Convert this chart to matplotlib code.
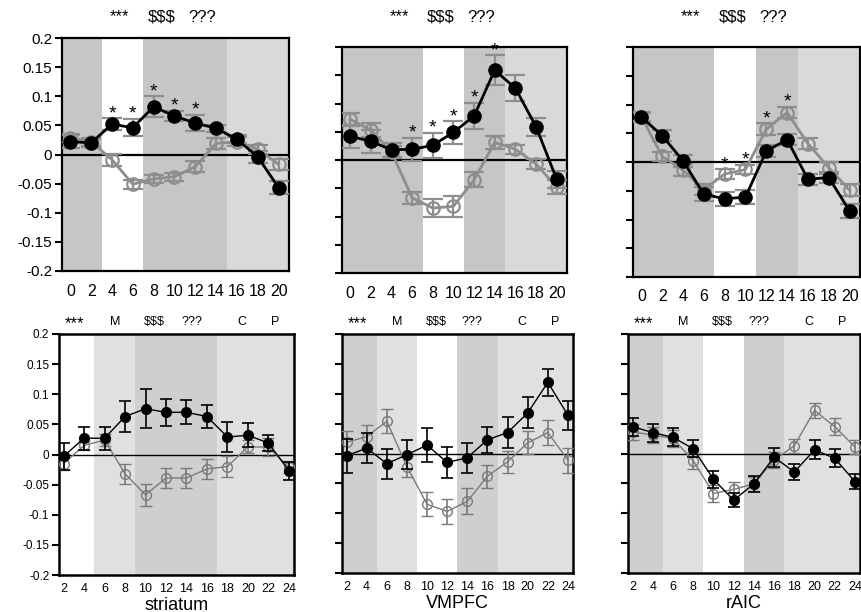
import matplotlib
matplotlib.use("Agg")
import matplotlib.pyplot as plt
import matplotlib.transforms as mtransforms
import numpy as np

plt.rcParams['font.family'] = ['Liberation Sans', 'DejaVu Sans']

# ---------------- data ----------------
top_x = [0, 2, 4, 6, 8, 10, 12, 14, 16, 18, 20]
bot_x = [2, 4, 6, 8, 10, 12, 14, 16, 18, 20, 22, 24]
regions = ["striatum", "VMPFC", "rAIC"]

# top row (black = filled, gray = open)
top_black = {
    "striatum": [0.022, 0.020, 0.052, 0.046, 0.082, 0.066, 0.054, 0.045, 0.026, -0.004, -0.057],
    "VMPFC":    [0.042, 0.033, 0.018, 0.019, 0.026, 0.049, 0.078, 0.159, 0.127, 0.059, -0.034],
    "rAIC":     [0.078, 0.046, 0.002, -0.056, -0.064, -0.061, 0.019, 0.039, -0.030, -0.027, -0.085],
}
top_black_err = {
    "striatum": [0.011, 0.007, 0.010, 0.015, 0.018, 0.009, 0.014, 0.006, 0.007, 0.010, 0.011],
    "VMPFC":    [0.020, 0.020, 0.012, 0.020, 0.022, 0.020, 0.023, 0.026, 0.023, 0.016, 0.015],
    "rAIC":     [0.008, 0.010, 0.010, 0.012, 0.012, 0.012, 0.010, 0.010, 0.010, 0.010, 0.012],
}
top_gray = {
    "striatum": [0.029, 0.022, -0.009, -0.051, -0.042, -0.038, -0.021, 0.019, 0.022, 0.009, -0.017],
    "VMPFC":    [0.072, 0.053, 0.014, -0.067, -0.085, -0.082, -0.035, 0.031, 0.019, -0.007, -0.048],
    "rAIC":     [0.079, 0.010, -0.014, -0.048, -0.021, -0.013, 0.057, 0.086, 0.032, -0.010, -0.049],
}
top_gray_err = {
    "striatum": [0.007, 0.007, 0.010, 0.008, 0.007, 0.007, 0.009, 0.010, 0.008, 0.008, 0.010],
    "VMPFC":    [0.011, 0.012, 0.010, 0.010, 0.016, 0.019, 0.013, 0.011, 0.008, 0.009, 0.013],
    "rAIC":     [0.008, 0.008, 0.010, 0.010, 0.008, 0.008, 0.010, 0.010, 0.010, 0.010, 0.010],
}
# significance stars: x positions and which series they sit above
top_star_x = {"striatum": [4, 6, 8, 10, 12], "VMPFC": [6, 8, 10, 12, 14], "rAIC": [8, 10, 12, 14]}
top_star_series = {"striatum": "black", "VMPFC": "black", "rAIC": "gray"}

# bottom row
bot_black = {
    "striatum": [-0.003, 0.027, 0.027, 0.063, 0.076, 0.070, 0.070, 0.063, 0.029, 0.032, 0.019, -0.027],
    "VMPFC":    [-0.004, 0.009, -0.017, -0.002, 0.014, -0.015, -0.007, 0.023, 0.035, 0.068, 0.119, 0.064],
    "rAIC":     [0.045, 0.035, 0.027, 0.008, -0.043, -0.078, -0.051, -0.006, -0.031, 0.006, -0.008, -0.047],
}
bot_black_err = {
    "striatum": [0.022, 0.019, 0.019, 0.026, 0.032, 0.022, 0.020, 0.019, 0.025, 0.020, 0.014, 0.015],
    "VMPFC":    [0.029, 0.025, 0.025, 0.024, 0.029, 0.026, 0.025, 0.022, 0.026, 0.026, 0.023, 0.024],
    "rAIC":     [0.015, 0.015, 0.015, 0.014, 0.014, 0.012, 0.014, 0.016, 0.014, 0.016, 0.015, 0.012],
}
bot_gray = {
    "striatum": [-0.015, 0.015, 0.024, -0.032, -0.067, -0.039, -0.039, -0.024, -0.020, 0.013, 0.012, -0.021],
    "VMPFC":    [0.019, 0.028, 0.054, -0.022, -0.085, -0.097, -0.080, -0.038, -0.014, 0.018, 0.035, -0.011],
    "rAIC":     [0.036, 0.031, 0.025, -0.012, -0.067, -0.060, -0.051, -0.011, 0.013, 0.072, 0.045, 0.011],
}
bot_gray_err = {
    "striatum": [0.011, 0.008, 0.010, 0.017, 0.018, 0.017, 0.017, 0.017, 0.018, 0.011, 0.015, 0.010],
    "VMPFC":    [0.019, 0.019, 0.020, 0.018, 0.020, 0.021, 0.022, 0.019, 0.019, 0.019, 0.021, 0.021],
    "rAIC":     [0.014, 0.014, 0.014, 0.014, 0.014, 0.012, 0.012, 0.014, 0.012, 0.012, 0.014, 0.012],
}

y_ticks = [0.2, 0.15, 0.1, 0.05, 0, -0.05, -0.1, -0.15, -0.2]
y_ticklabels = ["0.2", "0.15", "0.1", "0.05", "0", "-0.05", "-0.1", "-0.15", "-0.2"]
top_header = ["***", "$$$", "???"]
bot_header = ["***", "M", "$$$", "???", "C", "P"]

# ---------------- styling / layout ----------------
DARK_T, LIGHT_T = "#c6c6c6", "#d9d9d9"
DARK_B, LIGHT_B = "#cfcfcf", "#e0e0e0"
GRAY_T = "#8e8e8e"
GRAY_B = "#7a7a7a"

top_shading = {
    "striatum": [(-5, 3, DARK_T), (3, 7, "white"), (7, 15, DARK_T), (15, 30, LIGHT_T)],
    "VMPFC":    [(-5, 7, DARK_T), (7, 11, "white"), (11, 15, DARK_T), (15, 30, LIGHT_T)],
    "rAIC":     [(-5, 7, DARK_T), (7, 11, "white"), (11, 15, DARK_T), (15, 30, LIGHT_T)],
}
bot_shading = {
    "striatum": [(0, 5, "white"), (5, 9, LIGHT_B), (9, 17, DARK_B), (17, 30, LIGHT_B)],
    "VMPFC":    [(0, 5, DARK_B), (5, 9, LIGHT_B), (9, 13, "white"), (13, 17, DARK_B), (17, 30, LIGHT_B)],
    "rAIC":     [(0, 5, DARK_B), (5, 9, LIGHT_B), (9, 13, "white"), (13, 17, DARK_B), (17, 30, LIGHT_B)],
}
top_boxes = [(62, 38, 289, 271), (342, 47, 567, 273), (633, 47, 860, 277)]
bot_boxes = [(59, 334, 294, 575), (342, 334, 573, 573), (628, 334, 860, 573)]
top_header_x = [0.255, 0.437, 0.617]
bot_header_x = [3.1, 7.0, 10.9, 14.5, 19.4, 22.7]

W, H = 862, 612
fig = plt.figure(figsize=(W / 100, H / 100), dpi=100)


def add_ax(box):
    l, t, r, b = box
    return fig.add_axes([l / W, 1 - b / H, (r - l) / W, (b - t) / H])


for i, reg in enumerate(regions):
    # ---------- top row ----------
    ax = add_ax(top_boxes[i])
    for (a, b, c) in top_shading[reg]:
        ax.axvspan(a, b, color=c, lw=0, zorder=0)
    ax.axhline(0, color="black", lw=1.6, zorder=1)
    ax.errorbar(top_x, top_gray[reg], yerr=top_gray_err[reg], color=GRAY_T, lw=2.0,
                marker="o", ms=9, mfc="none", mec=GRAY_T, mew=1.6,
                ecolor=GRAY_T, elinewidth=1.6, capsize=7, capthick=1.6, zorder=3)
    ax.errorbar(top_x, top_black[reg], yerr=top_black_err[reg], color="black", lw=2.0,
                marker="o", ms=9.5, mfc="black", mec="black",
                ecolor=GRAY_T, elinewidth=1.6, capsize=7, capthick=1.6, zorder=4)
    vals = top_black[reg] if top_star_series[reg] == "black" else top_gray[reg]
    errs = top_black_err[reg] if top_star_series[reg] == "black" else top_gray_err[reg]
    for sx in top_star_x[reg]:
        k = top_x.index(sx)
        ax.text(sx, vals[k] + errs[k] + 0.008, "*", ha="center", va="center",
                fontsize=14, clip_on=False, zorder=5)
    ax.set_xlim(-0.8, 21)
    ax.set_ylim(-0.2, 0.2)
    ax.set_xticks(top_x)
    ax.set_xticklabels([str(v) for v in top_x], fontsize=11.5)
    ax.set_yticks(y_ticks)
    if i == 0:
        ax.set_yticklabels(y_ticklabels, fontsize=11)
    else:
        ax.set_yticklabels([])
    ax.tick_params(axis="x", length=0, pad=9)
    ax.tick_params(axis="y", length=5, width=1.5, direction="out", pad=2)
    for s in ax.spines.values():
        s.set_linewidth(1.6)
    tr = mtransforms.blended_transform_factory(ax.transAxes, fig.transFigure)
    for hx, ht in zip(top_header_x, top_header):
        ax.text(hx, 1 - 17 / H, ht, transform=tr, ha="center", va="center", fontsize=12)

    # ---------- bottom row ----------
    ax = add_ax(bot_boxes[i])
    for (a, b, c) in bot_shading[reg]:
        ax.axvspan(a, b, color=c, lw=0, zorder=0)
    ax.axhline(0, color="black", lw=1.0, zorder=1)
    ax.errorbar(bot_x, bot_gray[reg], yerr=bot_gray_err[reg], color=GRAY_B, lw=1.0,
                marker="o", ms=7, mfc="none", mec=GRAY_B, mew=1.0,
                ecolor=GRAY_B, elinewidth=1.2, capsize=4, capthick=1.2, zorder=3)
    ax.errorbar(bot_x, bot_black[reg], yerr=bot_black_err[reg], color="black", lw=1.0,
                marker="o", ms=7, mfc="black", mec="black",
                ecolor="black", elinewidth=1.2, capsize=4, capthick=1.2, zorder=4)
    ax.set_xlim(1.55, 24.5)
    ax.set_ylim(-0.2, 0.2)
    ax.set_xticks(bot_x)
    ax.set_xticklabels([str(v) for v in bot_x], fontsize=9)
    ax.set_yticks(y_ticks)
    if i == 0:
        ax.set_yticklabels(y_ticklabels, fontsize=8.5)
    else:
        ax.set_yticklabels([])
    ax.tick_params(axis="x", length=0, pad=6)
    ax.tick_params(axis="y", length=5, width=1.5, direction="out", pad=2)
    for s in ax.spines.values():
        s.set_linewidth(1.8)
    ax.set_xlabel(reg, fontsize=13, labelpad=1)
    tr = mtransforms.blended_transform_factory(ax.transData, fig.transFigure)
    for hx, ht in zip(bot_header_x, bot_header):
        fs = 12 if ht == "***" else 9
        yy = 1 - (324 if ht == "***" else 322) / H
        ax.text(hx, yy, ht, transform=tr, ha="center", va="center", fontsize=fs)

fig.savefig("out.png", dpi=100)
